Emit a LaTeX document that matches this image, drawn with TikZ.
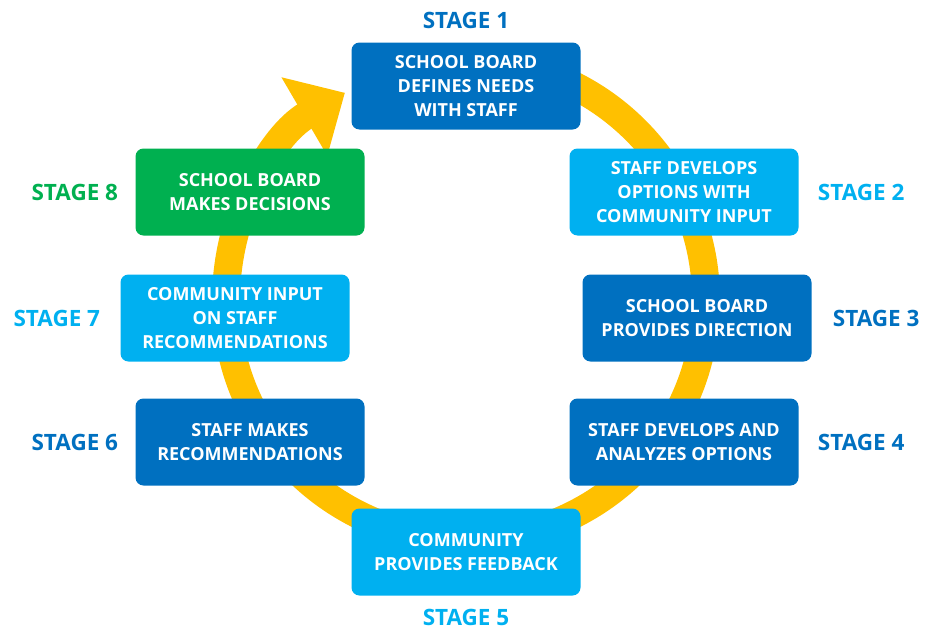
\documentclass[tikz,border=0pt]{standalone}
\usepackage{fontspec}
\setmainfont{Open Sans}
\usetikzlibrary{arrows.meta, positioning, backgrounds}
\definecolor{darkblue}{HTML}{0070C0}
\definecolor{lightblue}{HTML}{00B0F0}
\definecolor{stagegreen}{HTML}{00B050}
\definecolor{ringyellow}{HTML}{FFC000}
\tikzset{
  box/.style={
    rectangle,
    rounded corners=8pt,
    align=center,
    text=white,
    inner sep=0pt,
    minimum width=229pt,
    minimum height=87pt,
    font=\fontsize{18}{24}\selectfont\bfseries
  },
  stage/.style={
    inner sep=0pt,
    font=\fontsize{22.5}{24}\selectfont\bfseries
  },
  ring/.style={
    draw=ringyellow,
    line width=28pt,
    -{Triangle[width=88pt,length=47pt]}
  }
}

\begin{document}
\begin{tikzpicture}[x=1pt,y=-1pt]
\useasboundingbox (0,0) rectangle (925,629);
\coordinate (c) at (466,300);
\node[box, fill=darkblue] (s1) at (466,86) {SCHOOL BOARD\\DEFINES NEEDS\\WITH STAFF};
\node[box, fill=lightblue] (s2) at (684,192) {STAFF DEVELOPS\\OPTIONS WITH\\COMMUNITY INPUT};
\node[box, fill=darkblue] (s3) at (697,318) {SCHOOL BOARD\\PROVIDES DIRECTION};
\node[box, fill=darkblue] (s4) at (684,442) {STAFF DEVELOPS AND\\ANALYZES OPTIONS};
\node[box, fill=lightblue] (s5) at (466,552) {COMMUNITY\\PROVIDES FEEDBACK};
\node[box, fill=darkblue] (s6) at (250,442) {STAFF MAKES\\RECOMMENDATIONS};
\node[box, fill=lightblue] (s7) at (235,318) {COMMUNITY INPUT\\ON STAFF\\RECOMMENDATIONS};
\node[box, fill=stagegreen] (s8) at (250,192) {SCHOOL BOARD\\MAKES DECISIONS};

\node[stage, text=darkblue, above=13pt of s1] (l1) {STAGE 1};
\node[stage, text=lightblue, right=19pt of s2] (l2) {STAGE 2};
\node[stage, text=darkblue, right=21pt of s3] (l3) {STAGE 3};
\node[stage, text=darkblue, right=19pt of s4] (l4) {STAGE 4};
\node[stage, text=lightblue, below=13pt of s5] (l5) {STAGE 5};
\node[stage, text=darkblue, left=17pt of s6] (l6) {STAGE 6};
\node[stage, text=lightblue, left=20pt of s7] (l7) {STAGE 7};
\node[stage, text=stagegreen, left=17pt of s8] (l8) {STAGE 8};

\begin{scope}[on background layer]
\draw[ring] (c) ++(-90:240) arc[start angle=-90, end angle=239.7, radius=240];
\end{scope}
\end{tikzpicture}
\end{document}
